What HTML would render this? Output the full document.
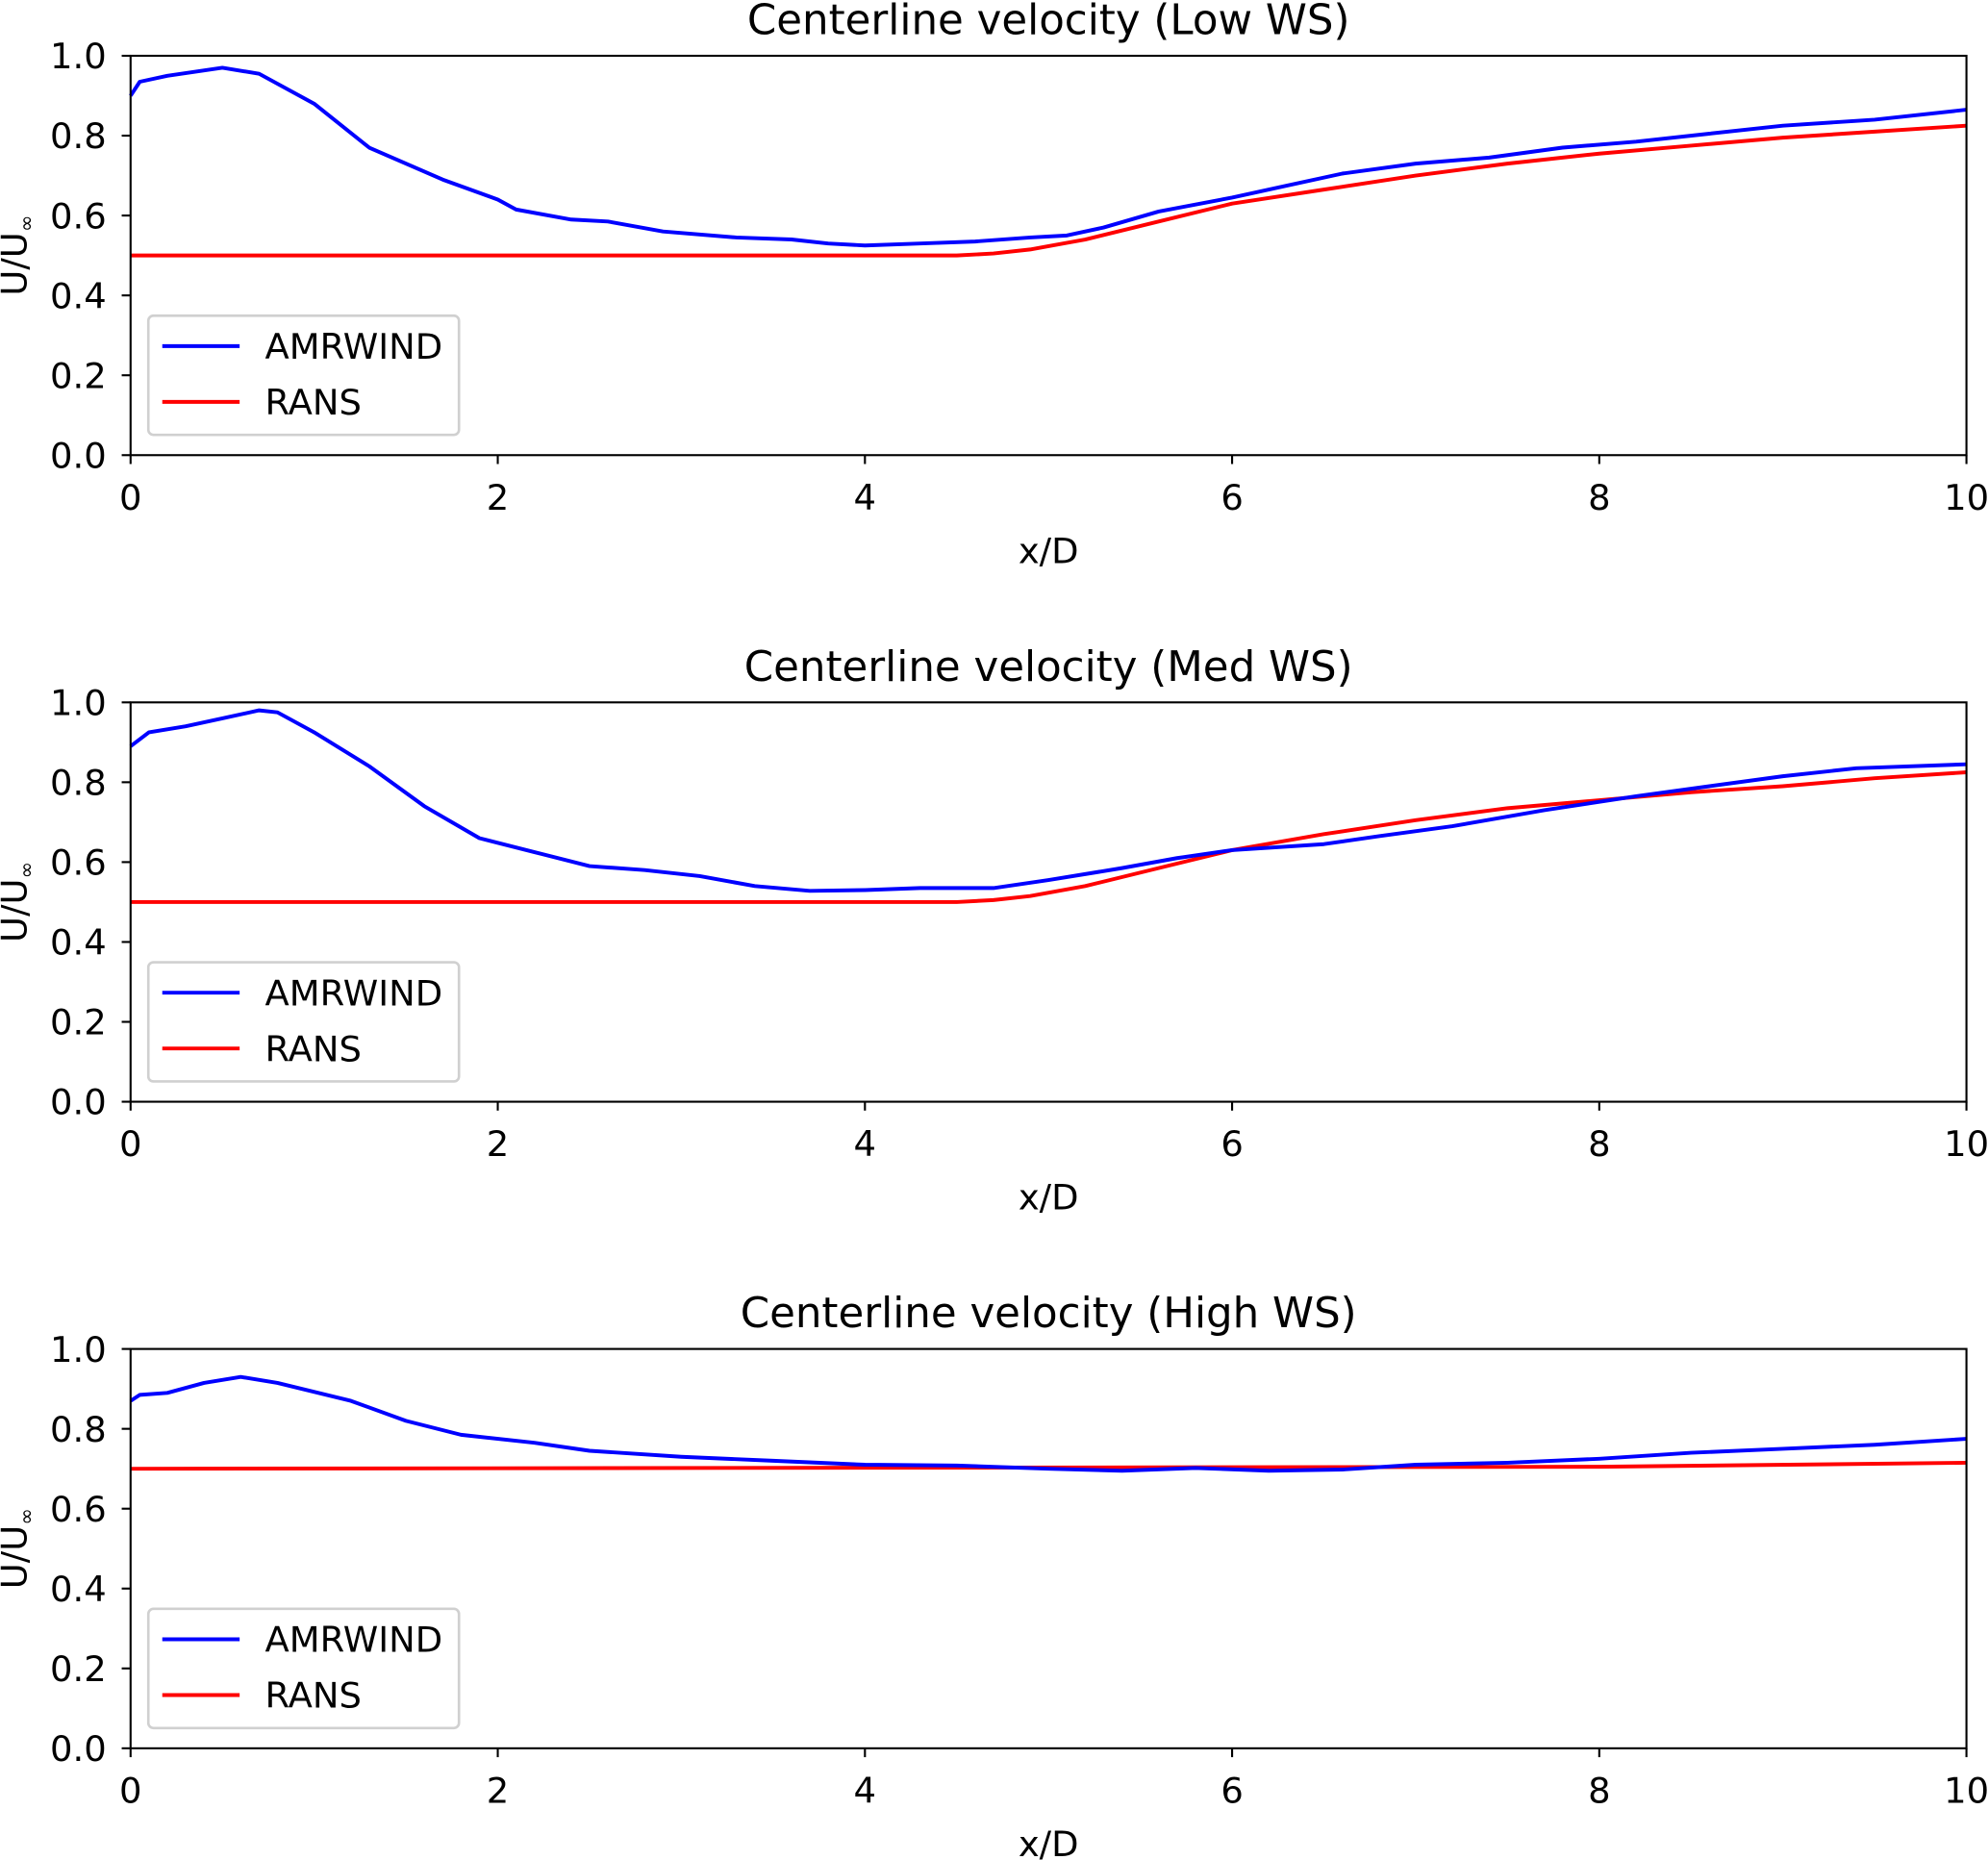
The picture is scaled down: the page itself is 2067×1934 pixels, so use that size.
<!DOCTYPE html>
<html><head><meta charset="utf-8"><style>body{margin:0;background:#fff}svg{display:block}text{font-family:"DejaVu Sans","Liberation Sans",sans-serif;fill:#000}</style></head>
<body>
<svg id="fig" width="2067" height="1934" viewBox="0 0 1568 1467.1" xmlns="http://www.w3.org/2000/svg"></svg>
<script>
const titles=["Centerline velocity (Low WS)","Centerline velocity (Med WS)","Centerline velocity (High WS)"];
const xTicks=[0,2,4,6,8,10];
const yTicks=[0.0,0.2,0.4,0.6,0.8,1.0];
const lowAmrX=[0,0.05,0.2,0.5,0.7,1.0,1.3,1.7,2.0,2.1,2.4,2.6,2.9,3.3,3.6,3.8,4.0,4.3,4.6,4.9,5.1,5.3,5.6,6.0,6.3,6.6,7.0,7.4,7.8,8.2,8.6,9.0,9.5,10];
const lowAmrY=[0.9,0.935,0.95,0.97,0.955,0.88,0.77,0.69,0.64,0.615,0.59,0.585,0.56,0.545,0.54,0.53,0.525,0.53,0.535,0.545,0.55,0.57,0.61,0.645,0.675,0.705,0.73,0.745,0.77,0.785,0.805,0.825,0.84,0.865];
const lowRansX=[0,4.5,4.7,4.9,5.2,5.6,6.0,6.5,7,7.5,8,8.5,9,9.5,10];
const lowRansY=[0.5,0.5,0.505,0.515,0.54,0.585,0.63,0.665,0.7,0.73,0.755,0.775,0.795,0.81,0.825];
const medAmrX=[0,0.1,0.3,0.5,0.7,0.8,1.0,1.3,1.6,1.9,2.2,2.5,2.8,3.1,3.4,3.7,4.0,4.3,4.7,5.0,5.4,5.7,6.0,6.5,6.8,7.2,7.7,8.2,8.6,9.0,9.4,10];
const medAmrY=[0.89,0.925,0.94,0.96,0.98,0.975,0.925,0.84,0.74,0.66,0.625,0.59,0.58,0.565,0.54,0.528,0.53,0.535,0.535,0.555,0.585,0.61,0.63,0.645,0.665,0.69,0.73,0.765,0.79,0.815,0.835,0.845];
const medRansX=[0,4.5,4.7,4.9,5.2,5.6,6.0,6.5,7,7.5,8,8.5,9,9.5,10];
const medRansY=[0.5,0.5,0.505,0.515,0.54,0.585,0.63,0.67,0.705,0.735,0.755,0.775,0.79,0.81,0.825];
const highAmrX=[0,0.05,0.2,0.4,0.6,0.8,1.2,1.5,1.8,2.2,2.5,3.0,3.5,4.0,4.5,5.0,5.4,5.8,6.2,6.6,7.0,7.5,8.0,8.5,9.0,9.5,10];
const highAmrY=[0.87,0.885,0.89,0.915,0.93,0.915,0.87,0.82,0.785,0.765,0.745,0.73,0.72,0.71,0.708,0.7,0.695,0.702,0.695,0.698,0.71,0.715,0.725,0.74,0.75,0.76,0.775];
const highRansX=[0,8,10];
const highRansY=[0.7,0.705,0.715];
const series=[[lowAmrX,lowAmrY,lowRansX,lowRansY],[medAmrX,medAmrY,medRansX,medRansY],[highAmrX,highAmrY,highRansX,highRansY]];
const tops=[44,554,1064];
const svg=document.getElementById('fig');
const NS='http://www.w3.org/2000/svg';
function mk(tag,attrs,parent){const e=document.createElementNS(NS,tag);for(const k in attrs)e.setAttribute(k,attrs[k]);(parent||svg).appendChild(e);return e;}
const L=103,R=1551,H=315;
const names=['low','med','high'];
tops.forEach((T,i)=>{
  const g=mk('g',{});
  
  
  const sx=v=>L+(R-L)*v/10, sy=v=>T+H*(1-v);
  const t=mk('text',{x:(L+R)/2,y:T-17,'font-size':33,'text-anchor':'middle'},g);t.textContent=titles[i];
  
  
  xTicks.forEach(v=>{mk('line',{x1:sx(v),x2:sx(v),y1:T+H,y2:T+H+7,stroke:'#000','stroke-width':1.6},g);
    const tx=mk('text',{x:sx(v),y:T+H+43,'font-size':28,'text-anchor':'middle'},g);tx.textContent=v;
    
    });
  yTicks.forEach(v=>{mk('line',{x1:L-7,x2:L,y1:sy(v),y2:sy(v),stroke:'#000','stroke-width':1.6},g);
    const ty=mk('text',{x:L-19,y:sy(v)+10,'font-size':28,'text-anchor':'end'},g);ty.textContent=v.toFixed(1);
    
    });
  const xl=mk('text',{x:(L+R)/2,y:T+H+85,'font-size':28,'text-anchor':'middle'},g);xl.textContent='x/D';
  
  
  const yl=mk('text',{x:0,y:0,'font-size':28,'text-anchor':'middle',transform:`translate(21,${T+H/2}) rotate(-90)`},g);
  yl.innerHTML='U/U<tspan font-size="16" dy="5">∞</tspan>';
  
  
  const s=series[i];
  const pts=(xs,ys)=>xs.map((x,j)=>sx(x)+','+sy(ys[j])).join(' ');
  const r=mk('polyline',{points:pts(s[2],s[3]),fill:'none',stroke:'#ff0000','stroke-width':3,'stroke-linejoin':'round'},g);
  
  
  const b=mk('polyline',{points:pts(s[0],s[1]),fill:'none',stroke:'#0000ff','stroke-width':3,'stroke-linejoin':'round'},g);
  
  
  mk('rect',{x:L,y:T,width:R-L,height:H,fill:'none',stroke:'#000','stroke-width':1.6},g);
  const lg=mk('g',{},g);
  
  
  mk('rect',{x:117,y:T+205,width:245,height:94,rx:4,fill:'#fff','fill-opacity':0.8,stroke:'#d0d0d0','stroke-width':2},lg);
  mk('line',{x1:128,x2:189,y1:T+229,y2:T+229,stroke:'#0000ff','stroke-width':3},lg);
  mk('line',{x1:128,x2:189,y1:T+273,y2:T+273,stroke:'#ff0000','stroke-width':3},lg);
  const a=mk('text',{x:209,y:T+239,'font-size':28},lg);a.textContent='AMRWIND';
  
  
  const rn=mk('text',{x:209,y:T+283,'font-size':28},lg);rn.textContent='RANS';
  
  
});
</script>
</body></html>
